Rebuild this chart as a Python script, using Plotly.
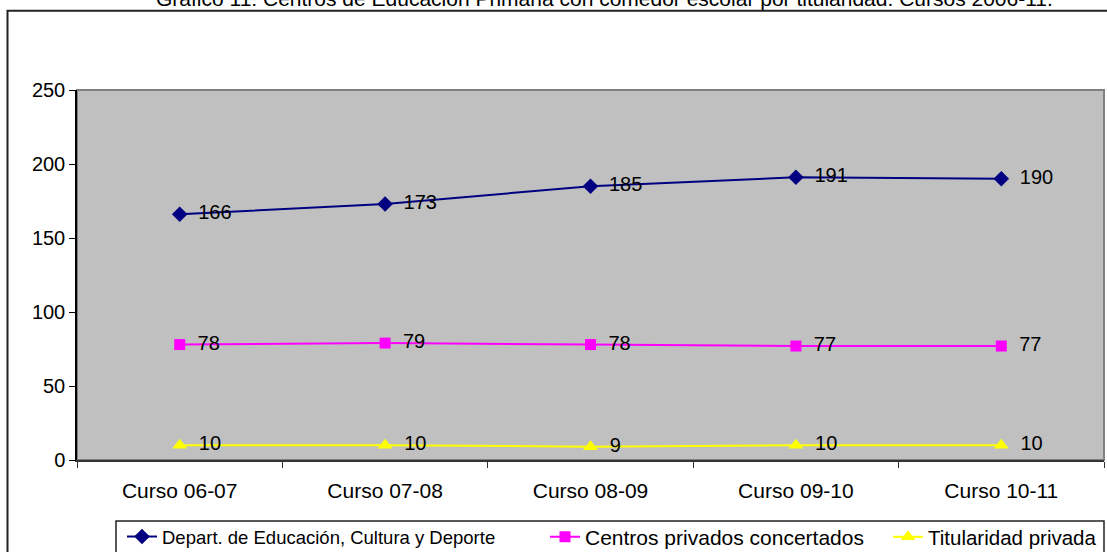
import plotly.graph_objects as go

categories = ["Curso 06-07", "Curso 07-08", "Curso 08-09", "Curso 09-10", "Curso 10-11"]
depart = [166, 173, 185, 191, 190]
concertados = [78, 79, 78, 77, 77]
privada = [10, 10, 9, 10, 10]
y_ticks = [0, 50, 100, 150, 200, 250]

names = ["Depart. de Educación, Cultura y Deporte", "Centros privados concertados", "Titularidad privada"]
title_text = "Gráfico 11: Centros de Educación Primaria con comedor escolar por titularidad. Cursos 2006-11."

FONT = "Liberation Sans, Arial, sans-serif"
PAD = "\u2002"  # small gap between marker and data label

def labels(vals):
    return [PAD + str(v) for v in vals]

fig = go.Figure()
fig.add_trace(go.Scatter(
    x=categories, y=depart, name=names[0], mode="lines+markers+text",
    text=labels(depart), textposition="middle right",
    textfont=dict(size=20, color="black", family=FONT),
    line=dict(color="#000080", width=2),
    marker=dict(symbol="diamond", size=12, color="#000080"),
    legend="legend", cliponaxis=False))
fig.add_trace(go.Scatter(
    x=categories, y=concertados, name=names[1], mode="lines+markers+text",
    text=labels(concertados), textposition="middle right",
    textfont=dict(size=20, color="black", family=FONT),
    line=dict(color="#FF00FF", width=2),
    marker=dict(symbol="square", size=11, color="#FF00FF"),
    legend="legend2", cliponaxis=False))
fig.add_trace(go.Scatter(
    x=categories, y=privada, name=names[2], mode="lines+markers+text",
    text=labels(privada), textposition="middle right",
    textfont=dict(size=20, color="black", family=FONT),
    line=dict(color="#FFFF00", width=2),
    marker=dict(symbol="triangle-up", size=13, color="#FFFF00"),
    legend="legend3", cliponaxis=False))

FW, FH = 1107, 620  # extra height below the visible window so the legend never squeezes the plot
# plot area in page pixels
L, R, T, B = 77, 1104, 90, 460
W, H = R - L, B - T
def px(x):  # page pixel -> paper
    return (x - L) / W
def py(y):
    return (B - y) / H

shapes = [
    # outer chart border
    dict(type="rect", xref="paper", yref="paper", x0=px(7.5), x1=px(1130), y0=py(600), y1=py(10.7),
         line=dict(color="#222222", width=2), fillcolor="rgba(0,0,0,0)", layer="below"),
    # plot area border (gray)
    dict(type="rect", xref="paper", yref="paper", x0=0, x1=1, y0=0, y1=1,
         line=dict(color="#808080", width=2), fillcolor="rgba(0,0,0,0)", layer="below"),
    # legend box
    dict(type="rect", xref="paper", yref="paper", x0=px(116), x1=px(1104), y0=py(600), y1=py(521),
         line=dict(color="#222222", width=1.5), fillcolor="white", layer="below"),
]

leg_common = dict(orientation="h", yanchor="middle", xanchor="left", bgcolor="rgba(0,0,0,0)",
                  borderwidth=0, y=py(537))

fig.update_layout(
    width=FW, height=FH,
    margin=dict(l=L, r=FW - R, t=T, b=FH - B),
    paper_bgcolor="white", plot_bgcolor="#C0C0C0",
    font=dict(family=FONT, color="black", size=20),
    shapes=shapes,
    showlegend=True,
    hovermode=False,
    legend=dict(**leg_common, x=px(122), font=dict(size=18.5, family=FONT, color="black")),
    legend2=dict(**leg_common, x=px(545), font=dict(size=21, family=FONT, color="black")),
    legend3=dict(**leg_common, x=px(888), font=dict(size=20.5, family=FONT, color="black")),
    annotations=[dict(text=title_text, xref="paper", yref="paper", x=px(604), y=py(12),
                      xanchor="center", yanchor="bottom", showarrow=False,
                      font=dict(size=21, family=FONT, color="black"))],
)
fig.update_xaxes(
    type="category", showgrid=False, showline=True, linecolor="#333333", linewidth=2,
    ticks="outside", tickson="boundaries", ticklen=6, tickcolor="#333333",
    tickfont=dict(size=21), ticklabelstandoff=11, range=[-0.5, 4.5], zeroline=False)
fig.update_yaxes(
    range=[0, 250], tickvals=y_ticks, showgrid=False, showline=True, linecolor="black",
    linewidth=1.5, ticks="outside", ticklen=6, tickcolor="black", tickfont=dict(size=20),
    zeroline=False)

fig.write_html("out.html",
               config={"displayModeBar": False},
               post_script="document.body.style.margin='0';document.body.style.overflow='hidden';")
